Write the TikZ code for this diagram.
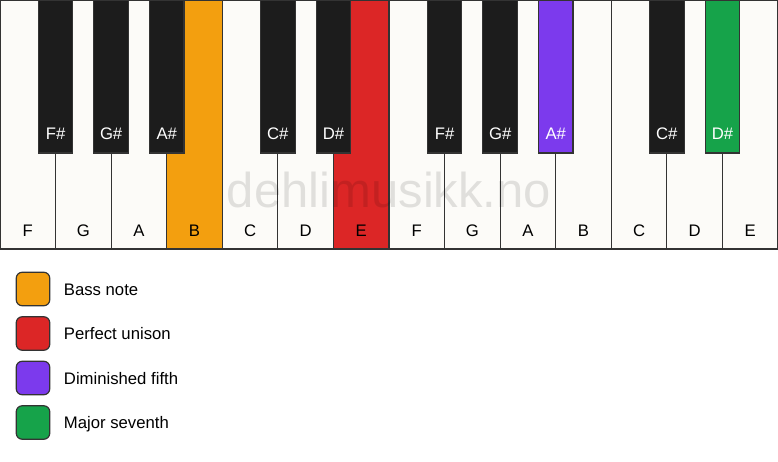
\documentclass[tikz,border=0pt]{standalone}
\usepackage{fontspec}
\setmainfont{Liberation Sans}
\usetikzlibrary{positioning}
\definecolor{keywhite}{HTML}{FCFBF8}
\definecolor{keyblack}{HTML}{1C1C1C}
\definecolor{keyedge}{HTML}{333333}
\definecolor{bassorange}{HTML}{F39F0F}
\definecolor{unisonred}{HTML}{DC2626}
\definecolor{dimpurple}{HTML}{7C3AED}
\definecolor{majgreen}{HTML}{16A34A}

\begin{document}
\begin{tikzpicture}[x=1pt, y=-1pt,
		keyline/.style={draw=keyedge, line width=1.2pt},
		keylabel/.style={font=\fontsize{16.7}{20}\selectfont, inner sep=0pt, text height=12pt, text depth=0pt},
		legendbox/.style={draw=keyedge, line width=1.2pt, rounded corners=6pt, minimum size=33.5pt, inner sep=0pt, outer sep=0pt},
		legendtext/.style={font=\fontsize{16.7}{20}\selectfont, inner sep=0pt, text height=12pt, text depth=0pt, anchor=west}]
		\useasboundingbox (0,0) rectangle (778,461);

		% white keys
		\foreach \name/\col [count=\i from 0] in {F/keywhite, G/keywhite, A/keywhite, B/bassorange, C/keywhite, D/keywhite, E/unisonred, F/keywhite, G/keywhite, A/keywhite, B/keywhite, C/keywhite, D/keywhite, E/keywhite}{
			\draw[keyline, fill=\col] (\i*55.571,0) rectangle ++(55.571,249);
			\node[keylabel] (w\i) at (\i*55.571+27.786,230) {\name};
		}

		% watermark
		\node[font=\fontsize{49}{50}\selectfont, text=black, text opacity=0.11, anchor=base, inner sep=0pt] (wm) at (389,207) {dehlimusikk.no};

		% black keys
		\foreach \i/\name/\col in {1/F\#/keyblack, 2/G\#/keyblack, 3/A\#/keyblack, 5/C\#/keyblack, 6/D\#/keyblack, 8/F\#/keyblack, 9/G\#/keyblack, 10/A\#/dimpurple, 12/C\#/keyblack, 13/D\#/majgreen}{
			\draw[keyline, fill=\col] (\i*55.571-17.3,0) rectangle ++(34.6,153);
			\node[keylabel, text=white] (b\i) at (\i*55.571,133) {\name};
		}

		% legend
		\node[legendbox, fill=bassorange] (lg1) at (33,289) {};
		\node[legendbox, fill=unisonred, below=11pt of lg1] (lg2) {};
		\node[legendbox, fill=dimpurple, below=11pt of lg2] (lg3) {};
		\node[legendbox, fill=majgreen, below=11pt of lg3] (lg4) {};
		\node[legendtext, right=14pt of lg1] (lt1) {Bass note};
		\node[legendtext, right=14pt of lg2] (lt2) {Perfect unison};
		\node[legendtext, right=14pt of lg3] (lt3) {Diminished fifth};
		\node[legendtext, right=14pt of lg4] (lt4) {Major seventh};
\end{tikzpicture}
\end{document}
